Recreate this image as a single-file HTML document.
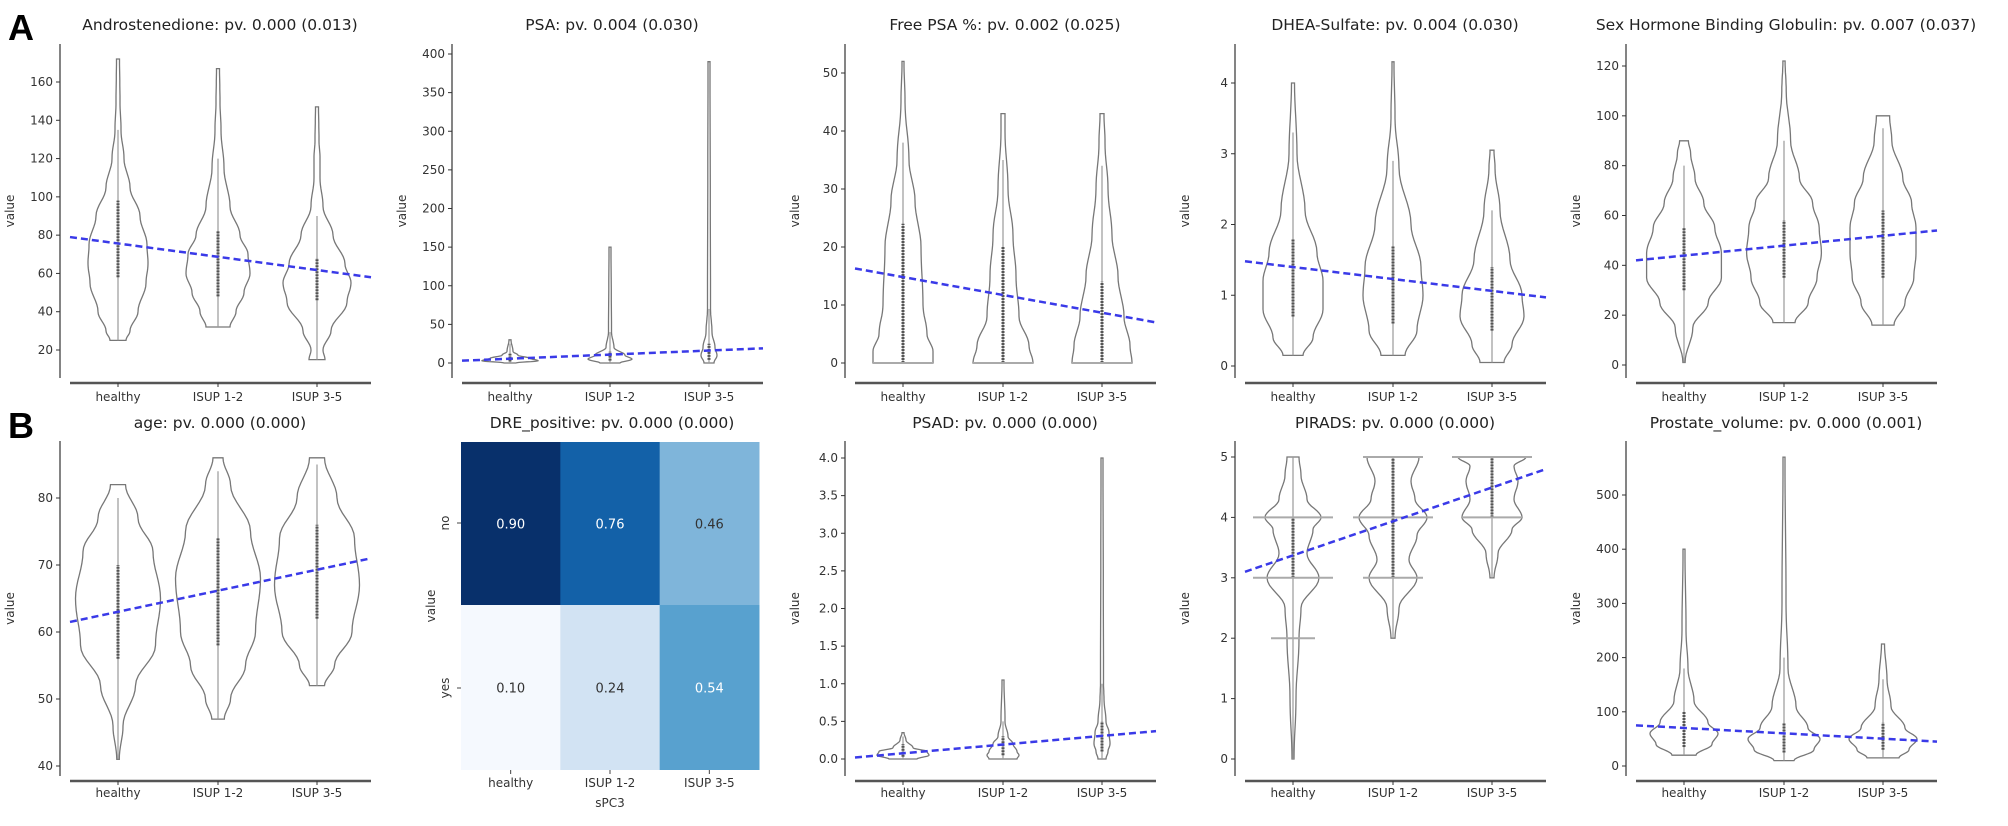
<!DOCTYPE html>
<html><head><meta charset="utf-8"><style>
html,body{margin:0;padding:0;background:#fff;}
svg{display:block;font-family:"DejaVu Sans","Liberation Sans",sans-serif;}
</style></head><body>
<svg id="s" width="2008" height="826" viewBox="0 0 2008 826" xmlns="http://www.w3.org/2000/svg">
<rect width="2008" height="826" fill="#fff"/>
<text x="8" y="40" font-size="36" font-weight="bold" font-family="Liberation Sans, sans-serif">A</text>
<text x="8" y="438" font-size="36" font-weight="bold" font-family="Liberation Sans, sans-serif">B</text>
</svg>
<script>
const S=document.getElementById('s');const NS='http://www.w3.org/2000/svg';
function el(t,a,txt){const e=document.createElementNS(NS,t);for(const k in a)e.setAttribute(k,a[k]);if(txt!==undefined)e.textContent=txt;S.appendChild(e);return e;}
const cols=[60,452,845,1235,1626];
const cats=['healthy','ISUP 1-2','ISUP 3-5'];
function panel(o){
 const ax=o.ax, r=o.row, top=r?441:44, bot=r?776:378, xline=r?781:383, lab=r?797:401, ty=r?428:30;
 const yv=v=>o.p0+(v-o.v0)*(o.p1-o.p0)/(o.v1-o.v0);
 const sc=o.sc||1;
 el('text',{x:ax+160,y:ty,'font-size':15.5,'text-anchor':'middle',fill:'#222'},o.title);
 const cx=[ax+58,ax+158,ax+257];
 if(o.heat){
  const x0=461,x1=759,y0=442,ym=605,y1=770,w=(x1-x0)/3;
  o.heat.forEach((c,i)=>{el('rect',{x:x0+i*w,y:y0,width:w+0.5,height:ym-y0,fill:c[0]});el('rect',{x:x0+i*w,y:ym,width:w+0.5,height:y1-ym,fill:c[2]});
   el('text',{x:x0+i*w+w/2,y:(y0+ym)/2+5,'font-size':13,'text-anchor':'middle',fill:c[1]},c[4]);
   el('text',{x:x0+i*w+w/2,y:(ym+y1)/2+5,'font-size':13,'text-anchor':'middle',fill:c[3]},c[5]);
   el('line',{x1:x0+i*w+w/2,x2:x0+i*w+w/2,y1:y1,y2:y1+4,stroke:'#444'});
   el('text',{x:x0+i*w+w/2,y:787,'font-size':12,'text-anchor':'middle',fill:'#333'},cats[i]);});
  el('text',{x:610,y:807,'font-size':12,'text-anchor':'middle',fill:'#333'},'sPC3');
  [['no',523],['yes',688]].forEach(([t,y])=>{el('line',{x1:457,x2:461,y1:y,y2:y,stroke:'#444'});
   el('text',{x:449,y:y,'font-size':12,'text-anchor':'middle',fill:'#333',transform:`rotate(-90 449 ${y})`},t);});
  el('text',{x:435,y:606,'font-size':12,'text-anchor':'middle',fill:'#333',transform:'rotate(-90 435 606)'},'value');
  return;
 }
 el('line',{x1:ax,x2:ax,y1:top,y2:bot,stroke:'#333','stroke-width':1.2});
 el('line',{x1:ax+10,x2:ax+311,y1:xline,y2:xline,stroke:'#555','stroke-width':2.5});
 o.ticks.forEach(t=>{const y=yv(t);el('line',{x1:ax-4,x2:ax,y1:y,y2:y,stroke:'#333'});
  el('text',{x:ax-7,y:y+4,'font-size':12,'text-anchor':'end',fill:'#333'},o.fmt?o.fmt(t):t);});
 el('text',{x:ax-46,y:(top+bot)/2,'font-size':12,'text-anchor':'middle',fill:'#333',transform:`rotate(-90 ${ax-46} ${(top+bot)/2})`},'value');
 cx.forEach((x,i)=>{el('line',{x1:x,x2:x,y1:xline,y2:xline+4,stroke:'#333'});
  el('text',{x:x,y:lab,'font-size':12,'text-anchor':'middle',fill:'#333'},cats[i]);});
 o.vio.forEach((pr,i)=>{const x=cx[i];
  const L=[],R=[];
  for(let k=0;k<pr.length-1;k++){const [va,wa]=pr[k],[vb,wb]=pr[k+1];
   for(let s=0;s<8;s++){const t=s/8,f=(1-Math.cos(Math.PI*t))/2,w=(wa+(wb-wa)*f)*sc,y=yv(va+(vb-va)*t);L.push([x-w,y]);R.push([x+w,y]);}}
  const [vl,wl]=pr[pr.length-1];L.push([x-wl*sc,yv(vl)]);R.push([x+wl*sc,yv(vl)]);
  const pts=L.concat(R.reverse()).map(p=>p[0].toFixed(1)+','+p[1].toFixed(1)).join(' ');
  el('polygon',{points:pts,fill:'none',stroke:'#777','stroke-width':1.3});
  el('line',{x1:x,x2:x,y1:yv(pr[0][0]),y2:yv(o.dots[i][2]),stroke:'#999','stroke-width':1.2});
  el('line',{x1:x,x2:x,y1:yv(o.dots[i][0]),y2:yv(o.dots[i][1]),stroke:'#555','stroke-width':3,'stroke-dasharray':'2 1'});
 });
 if(o.bars)o.bars.forEach(b=>{el('line',{x1:cx[b[0]]-b[2],x2:cx[b[0]]+b[2],y1:yv(b[1]),y2:yv(b[1]),stroke:'#aaa','stroke-width':2});});
 el('line',{x1:ax+10,x2:ax+311,y1:yv(o.tr[0]),y2:yv(o.tr[1]),stroke:'#3a3ae8','stroke-width':2.5,'stroke-dasharray':'7 4'});
}
panel({ax:cols[0],row:0,title:'Androstenedione: pv. 0.000 (0.013)',v0:20,p0:350,v1:160,p1:82,ticks:[20,40,60,80,100,120,140,160],tr:[79,58],
 vio:[[[25,8],[30,12],[40,20],[55,28],[65,30],[75,29],[90,22],[105,12],[120,6],[135,3],[150,2],[172,1.5]],
      [[32,12],[40,18],[50,26],[60,32],[70,30],[80,22],[95,12],[115,6],[135,3],[150,2],[167,1.5]],
      [[15,8],[20,6],[30,14],[45,30],[55,34],[65,28],[80,16],[95,6],[110,3],[120,3],[130,2],[147,1.5]]],
 dots:[[58,98,135],[48,82,120],[46,68,90]]});
panel({ax:cols[1],row:0,title:'PSA: pv. 0.004 (0.030)',v0:0,p0:363,v1:400,p1:54,ticks:[0,50,100,150,200,250,300,350,400],tr:[3,19],
 vio:[[[0,6],[3,28],[6,20],[10,8],[15,3],[30,1]],[[0,10],[5,22],[10,15],[20,4],[40,1.5],[150,1]],[[0,5],[10,8],[20,6],[40,3],[70,1.5],[390,1]]],
 dots:[[2,12,25],[3,15,40],[4,25,70]]});
panel({ax:cols[2],row:0,title:'Free PSA %: pv. 0.002 (0.025)',v0:0,p0:363,v1:50,p1:73,ticks:[0,10,20,30,40,50],tr:[16.3,7],
 vio:[[[0,30],[2,30],[5,24],[10,20],[20,18],[28,12],[35,6],[45,2],[52,1]],[[0,30],[3,26],[8,16],[15,13],[22,10],[30,5],[40,2],[43,2]],[[0,30],[3,28],[8,22],[15,16],[22,10],[30,6],[38,3],[43,2]]],
 dots:[[0,24,38],[0,20,35],[0,14,34]],bars:[[0,0,30],[1,0,30],[2,0,30]]});
panel({ax:cols[3],row:0,title:'DHEA-Sulfate: pv. 0.004 (0.030)',v0:0,p0:366,v1:4,p1:83,ticks:[0,1,2,3,4],tr:[1.48,0.97],
 vio:[[[0.15,10],[0.4,20],[0.8,30],[1.2,30],[1.6,24],[2.2,12],[3,4],[4,1.5]],[[0.15,12],[0.5,24],[1,30],[1.4,28],[2,18],[2.8,6],[3.5,2],[4.3,1]],[[0.05,12],[0.3,20],[0.7,32],[1,30],[1.5,18],[2.2,8],[2.8,3],[3.05,2]]],
 dots:[[0.7,1.8,3.3],[0.6,1.7,2.9],[0.5,1.4,2.2]]});
panel({ax:cols[4],row:0,sc:1.1,title:'Sex Hormone Binding Globulin: pv. 0.007 (0.037)',v0:0,p0:365,v1:120,p1:66,ticks:[0,20,40,60,80,100,120],tr:[42,54],
 vio:[[[1,1],[15,8],[25,22],[35,34],[45,34],[55,28],[65,18],[75,10],[85,6],[90,4]],[[17,10],[25,22],[35,30],[45,34],[55,32],[65,26],[75,14],[90,6],[110,2],[122,1]],[[16,10],[25,20],[35,28],[45,30],[55,30],[65,26],[75,18],[90,8],[100,6]]],
 dots:[[30,55,80],[35,58,90],[35,62,95]]});
panel({ax:cols[0],row:1,sc:1.25,title:'age: pv. 0.000 (0.000)',v0:40,p0:766,v1:80,p1:498,ticks:[40,50,60,70,80],tr:[61.5,71],
 vio:[[[41,1],[46,4],[52,14],[58,30],[65,34],[72,28],[77,16],[82,6]],[[47,5],[50,10],[55,22],[60,30],[68,34],[75,26],[82,10],[86,4]],[[52,6],[55,14],[60,28],[67,34],[74,30],[80,16],[86,6]]],
 dots:[[56,70,80],[58,74,84],[62,76,85]]});
panel({ax:cols[1],row:1,title:'DRE_positive: pv. 0.000 (0.000)',heat:[['#08306b','#fff','#f5f9fe','#333','0.90','0.10'],['#1361a8','#fff','#d2e3f3','#333','0.76','0.24'],['#7fb5da','#333','#58a1cf','#fff','0.46','0.54']]});
panel({ax:cols[2],row:1,title:'PSAD: pv. 0.000 (0.000)',v0:0,p0:759,v1:4,p1:458,ticks:[0,0.5,1,1.5,2,2.5,3,3.5,4],fmt:t=>t.toFixed(1),tr:[0.02,0.37],
 vio:[[[0,14],[0.05,26],[0.1,24],[0.15,10],[0.25,3],[0.35,1]],[[0,14],[0.05,16],[0.1,14],[0.2,10],[0.3,5],[0.5,2],[1.05,1]],[[0,4],[0.1,6],[0.2,8],[0.35,7],[0.5,4],[0.8,2],[1.0,1.5],[4.0,1]]],
 dots:[[0.03,0.2,0.3],[0.05,0.3,0.5],[0.1,0.5,1.0]]});
panel({ax:cols[3],row:1,title:'PIRADS: pv. 0.000 (0.000)',v0:0,p0:759,v1:5,p1:457,ticks:[0,1,2,3,4,5],tr:[3.1,4.8],
 vio:[[[0,1],[1,3],[2,6],[2.5,8],[3,26],[3.4,14],[3.8,20],[4,28],[4.3,14],[4.7,8],[5,6]],[[2,2],[2.5,6],[3,24],[3.3,16],[3.7,24],[4,34],[4.3,22],[4.6,18],[5,26]],[[3,2],[3.4,6],[3.8,20],[4,30],[4.3,22],[4.6,26],[4.85,22],[5,34]]],
 dots:[[3,4,5],[3,5,5],[4,5,5]],bars:[[0,2,22],[0,3,40],[0,4,40],[1,3,30],[1,4,40],[1,5,30],[2,4,30],[2,5,40]]});
panel({ax:cols[4],row:1,title:'Prostate_volume: pv. 0.000 (0.001)',v0:0,p0:766,v1:500,p1:495,ticks:[0,100,200,300,400,500],tr:[75,45],
 vio:[[[20,12],[40,28],[60,34],[80,24],[120,10],[180,4],[250,2],[400,1]],[[10,10],[30,30],[50,36],[70,24],[110,12],[180,4],[300,2],[570,1]],[[15,16],[30,26],[50,34],[70,22],[110,8],[160,4],[225,1.5]]],
 dots:[[35,100,180],[25,80,200],[30,80,160]]});
</script>
</body></html>
